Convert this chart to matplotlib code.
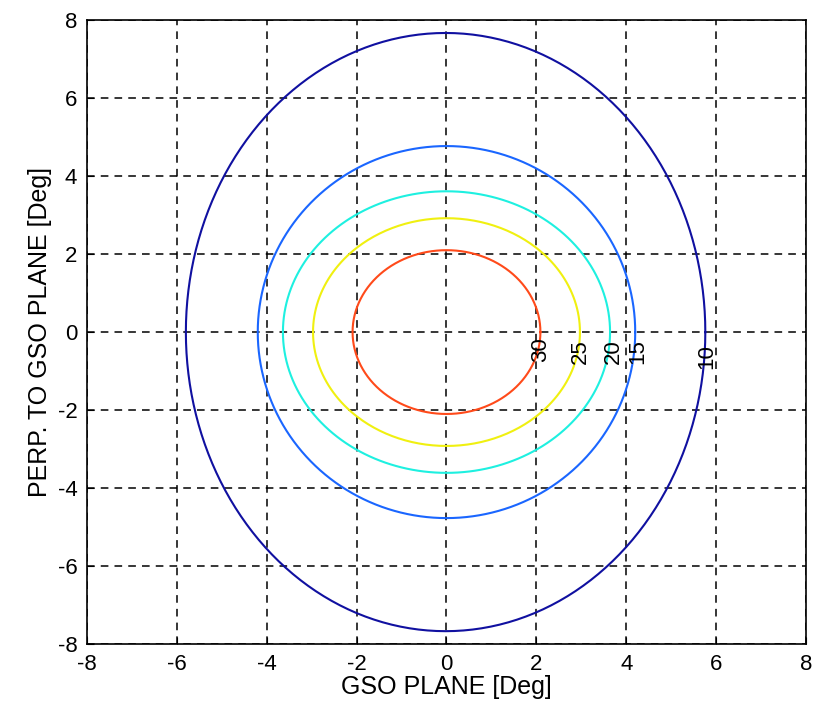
import numpy as np
import matplotlib.pyplot as plt

plt.rcParams['font.family'] = ['Liberation Sans', 'DejaVu Sans']
plt.rcParams['axes.unicode_minus'] = False

# contour levels and their extent (deg)
levels = [10, 15, 20, 25, 30]
x_half = [5.78, 4.20, 3.64, 2.97, 2.09]   # half width along GSO plane
y_half = [7.67, 4.77, 3.61, 2.92, 2.10]   # half height perpendicular
x_shift = [-0.02, 0.0, 0.0, 0.0, 0.0]
colors = ['#1010a0', '#1a66ff', '#1ef0e0', '#f0f010', '#ff4a1a']
label_x = [5.80, 4.25, 3.72, 2.98, 2.10]
label_y = [-0.62, -0.50, -0.50, -0.50, -0.46]

fig = plt.figure(figsize=(8.17, 7.18), dpi=100)
ax = fig.add_axes([0.1065, 0.103, 0.88, 0.869])

t = np.linspace(0, 2 * np.pi, 361)
for lev, a, b, dx, c, lx, ly in zip(levels, x_half, y_half, x_shift, colors, label_x, label_y):
    ax.plot(dx + a * np.cos(t), b * np.sin(t), color=c, linewidth=1.5)
    ax.text(lx, ly, str(lev), rotation=90, fontsize=16, ha='center', va='center')

ax.set_xlim(-8, 8)
ax.set_ylim(-8, 8)
ax.set_xticks(range(-8, 9, 2))
ax.set_yticks(range(-8, 9, 2))
ax.grid(True, color='black', linestyle=(0, (5, 4)), linewidth=1.1)
ax.tick_params(labelsize=16, direction='in', length=5)
ax.tick_params(axis='x', pad=7)
ax.tick_params(axis='y', pad=7)
ax.set_xlabel('GSO PLANE [Deg]', fontsize=18, labelpad=0)
ax.set_ylabel('PERP. TO GSO PLANE [Deg]', fontsize=18, labelpad=4)
for s in ax.spines.values():
    s.set_linewidth(1.2)

plt.savefig('out.png', dpi=100)
